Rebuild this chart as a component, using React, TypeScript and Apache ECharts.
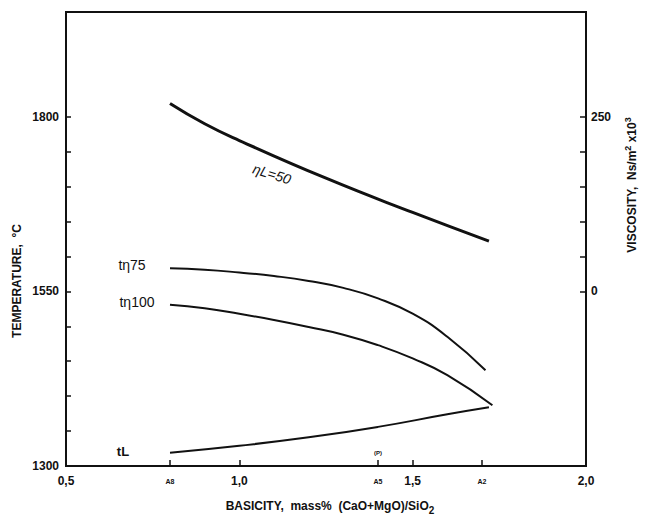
import React, { useEffect, useRef } from "react";
import * as echarts from "echarts";

// Basicity (x) and temperature (°C) values
const etaL50X = [0.8, 0.9, 1.0, 1.25, 1.5, 1.72];
const etaL50T = [1819, 1790, 1766, 1712, 1663, 1622];

const t75X = [0.8, 0.9, 1.0, 1.1, 1.2, 1.3, 1.4, 1.5, 1.6, 1.71];
const t75T = [1583, 1581, 1577, 1572, 1565, 1555, 1540, 1518, 1485, 1437];

const t100X = [0.8, 0.9, 1.0, 1.1, 1.2, 1.3, 1.4, 1.5, 1.6, 1.73];
const t100T = [1531, 1526, 1518, 1509, 1499, 1488, 1473, 1454, 1430, 1387];

const tLX = [0.8, 1.0, 1.2, 1.4, 1.6, 1.72];
const tLT = [1319, 1329, 1341, 1356, 1374, 1384];

// Axis ticks / labels
const xMainLabels = [0.5, 1.0, 1.5, 2.0];
const slagPositions = [0.8, 1.4, 1.7];
const slagNames = ["A8", "A5", "A2"];
const xTicks = [0.8, 1.0, 1.4, 1.5, 1.7];
const tempLabels = [1300, 1550, 1800];
const tempTicks = [1350, 1400, 1450, 1500, 1550, 1600, 1650, 1700, 1750, 1800];
const viscLabels = [0, 250];
const viscTicks = [0, 50, 100, 150, 200, 250];

const zip = (xs: number[], ys: number[]) => xs.map((x, i) => [x, ys[i]]);

const FONT = "Liberation Sans";

export default function App() {
  const ref = useRef<HTMLDivElement>(null);
  useEffect(() => {
    if (!ref.current) return;
    const chart = echarts.init(ref.current, null, { renderer: "svg" });
    const lineStyle = (w: number) => ({ color: "#111", width: w });
    const axisLineStyle = { lineStyle: { color: "#111", width: 2 } };
    const lineSeries = (name: string, xs: number[], ys: number[], w: number) => ({
      name,
      type: "line",
      smooth: 0.5,
      showSymbol: false,
      data: zip(xs, ys),
      lineStyle: lineStyle(w),
    });
    chart.setOption({
      animation: false,
      backgroundColor: "#fff",
      grid: {
        left: 66,
        right: 60,
        top: 12,
        bottom: 57,
        show: true,
        borderColor: "#111",
        borderWidth: 2,
        backgroundColor: "transparent",
      },
      xAxis: {
        type: "value",
        min: 0.5,
        max: 2.0,
        axisLine: { show: true, onZero: false, ...axisLineStyle },
        splitLine: { show: false },
        axisTick: {
          show: true,
          inside: true,
          length: 6,
          lineStyle: { color: "#111", width: 1.5 },
          customValues: xTicks,
        },
        axisLabel: {
          customValues: [...xMainLabels, ...slagPositions],
          margin: 9,
          color: "#111",
          fontFamily: FONT,
          fontWeight: "bold",
          fontSize: 12,
          formatter: (v: number) => {
            const k = slagPositions.findIndex((p) => Math.abs(p - v) < 1e-6);
            if (k >= 0) return "{s|" + slagNames[k] + "}";
            return v.toFixed(1).replace(".", ",");
          },
          rich: {
            s: { fontSize: 7, fontWeight: "bold", fontFamily: FONT, color: "#111", padding: [3, 0, 0, 0] },
          },
        },
      },
      yAxis: [
        {
          type: "value",
          min: 1300,
          max: 1950,
          interval: 50,
          position: "left",
          axisLine: { show: true, onZero: false, ...axisLineStyle },
          splitLine: { show: false },
          axisTick: {
            show: true,
            inside: true,
            length: 5,
            lineStyle: { color: "#111", width: 1.5 },
            customValues: tempTicks,
          },
          axisLabel: {
            customValues: tempLabels,
            formatter: (v: number) => String(v),
            margin: 7,
            color: "#111",
            fontFamily: FONT,
            fontWeight: "bold",
            fontSize: 12,
          },
        },
        {
          type: "value",
          min: -250,
          max: 400,
          interval: 50,
          position: "right",
          axisLine: { show: true, onZero: false, ...axisLineStyle },
          splitLine: { show: false },
          axisTick: {
            show: true,
            inside: true,
            length: 6,
            lineStyle: { color: "#111", width: 1.5 },
            customValues: viscTicks,
          },
          axisLabel: {
            customValues: viscLabels,
            formatter: (v: number) => String(v),
            margin: 5,
            color: "#111",
            fontFamily: FONT,
            fontWeight: "bold",
            fontSize: 12,
          },
        },
      ],
      series: [
        lineSeries("ηL=50", etaL50X, etaL50T, 3),
        lineSeries("tη75", t75X, t75T, 2),
        lineSeries("tη100", t100X, t100T, 2),
        lineSeries("tL", tLX, tLT, 2),
      ],
      graphic: [
        {
          type: "text",
          x: 17,
          y: 281,
          rotation: Math.PI / 2,
          style: {
            text: "TEMPERATURE,  °C",
            fontFamily: FONT,
            fontSize: 12,
            fontWeight: "bold",
            fill: "#111",
            align: "center",
            verticalAlign: "middle",
          },
        },
        {
          type: "text",
          x: 632,
          y: 185,
          rotation: Math.PI / 2,
          style: {
            text: "VISCOSITY,  Ns/m{sup|2} x10{sup|3}",
            fontFamily: FONT,
            fontSize: 12,
            fontWeight: "bold",
            fill: "#111",
            align: "center",
            verticalAlign: "middle",
            rich: {
              sup: { fontSize: 9, fontWeight: "bold", fontFamily: FONT, fill: "#111", verticalAlign: "top", padding: [0, 0, 8, 0] },
            },
          },
        },
        {
          type: "text",
          x: 330,
          y: 506,
          style: {
            text: "BASICITY,  mass%  (CaO+MgO)/SiO{sub|2}",
            fontFamily: FONT,
            fontSize: 12,
            fontWeight: "bold",
            fill: "#111",
            align: "center",
            verticalAlign: "middle",
            rich: {
              sub: { fontSize: 10, fontWeight: "bold", fontFamily: FONT, fill: "#111", padding: [8, 0, 0, 0] },
            },
          },
        },
        {
          type: "text",
          x: 272,
          y: 174,
          rotation: -0.3,
          style: {
            text: "ηL=50",
            fontFamily: FONT,
            fontSize: 14,
            fontStyle: "italic",
            fill: "#111",
            align: "center",
            verticalAlign: "middle",
          },
        },
        { type: "text", x: 132, y: 265, style: { text: "tη75", fontFamily: FONT, fontSize: 14, fill: "#111", align: "center", verticalAlign: "middle" } },
        { type: "text", x: 137, y: 302, style: { text: "tη100", fontFamily: FONT, fontSize: 14, fill: "#111", align: "center", verticalAlign: "middle" } },
        { type: "text", x: 123, y: 451, style: { text: "tL", fontFamily: FONT, fontSize: 13, fontWeight: "bold", fill: "#111", align: "center", verticalAlign: "middle" } },
        { type: "text", x: 378, y: 453, style: { text: "(P)", fontFamily: FONT, fontSize: 6, fontWeight: "bold", fill: "#111", align: "center", verticalAlign: "middle" } },
      ],
    });
    return () => chart.dispose();
  }, []);
  return <div ref={ref} style={{ position: "fixed", left: 0, top: 0, width: 646, height: 523 }} />;
}
